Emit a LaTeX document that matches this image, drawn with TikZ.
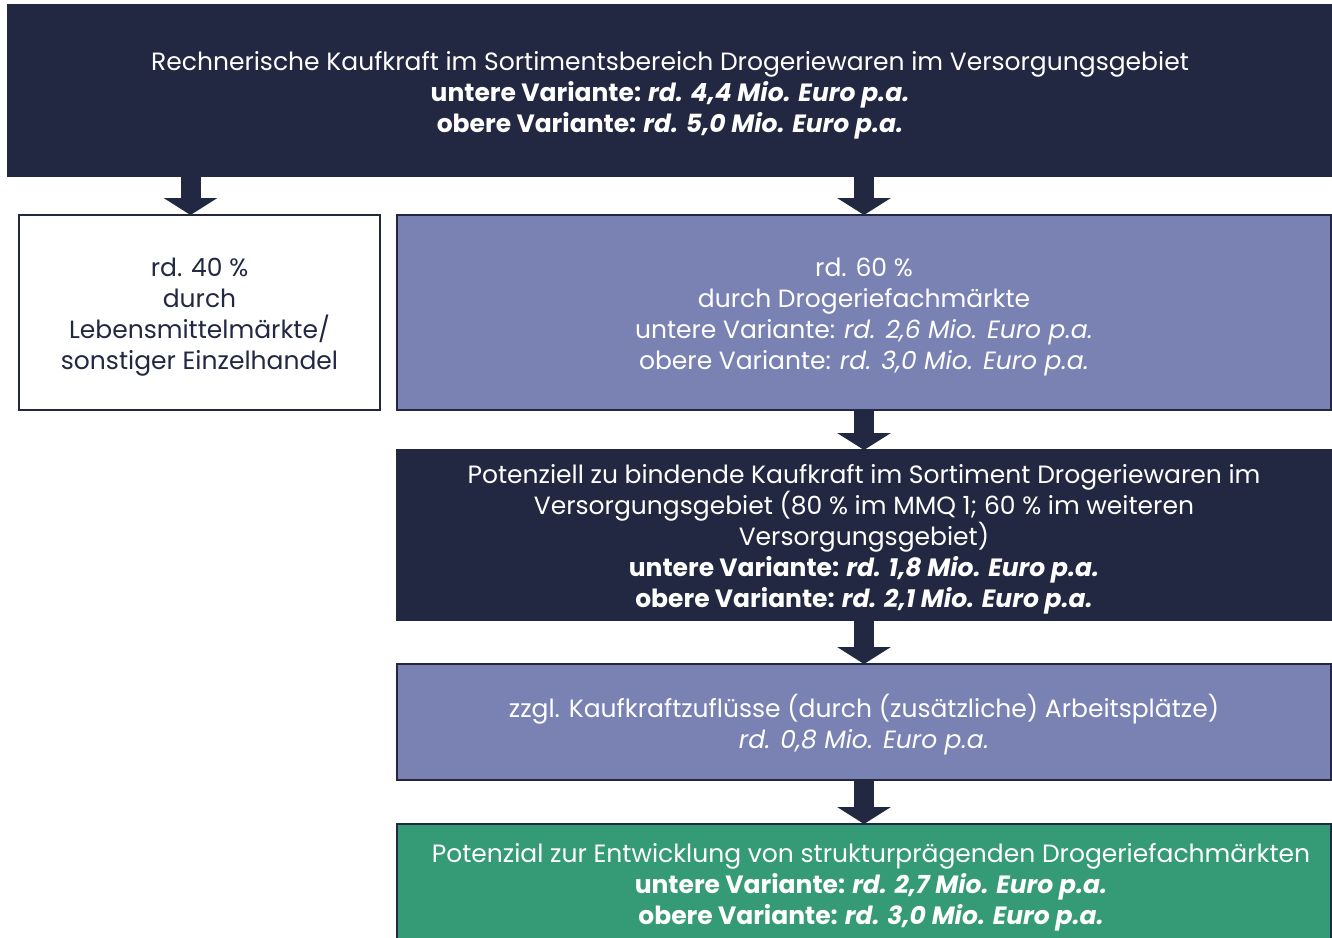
\documentclass[tikz,border=0pt]{standalone}
\usepackage{fontspec}
\setmainfont{Poppins}
\usepackage{xcolor}
\usepackage{tikz}
\usetikzlibrary{arrows.meta}
\usetikzlibrary{positioning}

\definecolor{navy}{HTML}{222841}
\definecolor{lavender}{HTML}{7A82B4}
\definecolor{mint}{HTML}{359B76}

\newcommand{\topstrut}{\rule{0pt}{28pt}} % pushes the text a bit lower in its box

\begin{document}
\begin{tikzpicture}[
    x=1pt,y=1pt,
    outer sep=0pt,inner sep=0pt,
    font=\fontsize{25}{31}\selectfont,
    flowbox/.style={rectangle,align=center,draw=navy,line width=1.5pt},
    darkbox/.style={flowbox,fill=navy,text=white},
    lavbox/.style={flowbox,fill=lavender,text=white},
    whitebox/.style={flowbox,fill=white,text=navy},
    greenbox/.style={flowbox,fill=mint,text=white},
    flowarrow/.style={draw=navy,line width=20pt,-{Triangle[length=17pt,width=53pt]}},
    ]
    \useasboundingbox (0,0) rectangle (1332,-937);
    \clip (0,0) rectangle (1332,-937);

    \node (kaufkraft) at (670,-90.5) [darkbox,minimum width=1324pt,minimum height=171pt]
        {\topstrut Rechnerische Kaufkraft im Sortimentsbereich Drogeriewaren im Versorgungsgebiet\\
         \textbf{untere Variante: \textit{rd. 4,4 Mio. Euro p.a.}}\\
         \textbf{obere Variante: \textit{rd. 5,0 Mio. Euro p.a.}}};

    \node (drogerie) [below left=39pt and 1pt of kaufkraft.south east] [lavbox,minimum width=934pt,minimum height=195pt]
        {\topstrut rd. 60 \%\\
         durch Drogeriefachmärkte\\
         untere Variante: \textit{rd. 2,6 Mio. Euro p.a.}\\
         obere Variante: \textit{rd. 3,0 Mio. Euro p.a.}};
    \node (lebensm) [left=17pt of drogerie] [whitebox,minimum width=361pt,minimum height=195pt]
        {\topstrut rd. 40 \%\\
         durch\\
         Lebensmittelmärkte/\\
         sonstiger Einzelhandel};

    \node (bindung) [below=40pt of drogerie] [darkbox,minimum width=934pt,minimum height=170pt]
        {\topstrut Potenziell zu bindende Kaufkraft im Sortiment Drogeriewaren im\\
         Versorgungsgebiet (80 \% im MMQ 1; 60 \% im weiteren\\
         Versorgungsgebiet)\\
         \textbf{untere Variante: \textit{rd. 1,8 Mio. Euro p.a.}}\\
         \textbf{obere Variante: \textit{rd. 2,1 Mio. Euro p.a.}}};

    \node (zufluss) [below=44pt of bindung] [lavbox,minimum width=934pt,minimum height=116pt]
        {\topstrut zzgl. Kaufkraftzuflüsse (durch (zusätzliche) Arbeitsplätze)\\
         \textit{rd. 0,8 Mio. Euro p.a.}};

    % green box runs past the lower edge of the page
    \node (potenzial) [below=44pt of zufluss] [greenbox,minimum width=934pt,minimum height=150pt] {};
    \node (pottext) [below right=19pt and 7pt of potenzial.north,anchor=north] [align=center,text=white]
        {Potenzial zur Entwicklung von strukturprägenden Drogeriefachmärkten\\
         \textbf{untere Variante: \textit{rd. 2,7 Mio. Euro p.a.}}\\
         \textbf{obere Variante: \textit{rd. 3,0 Mio. Euro p.a.}}};

    \draw [flowarrow] ([xshift=-9pt]lebensm.north |- kaufkraft.south) -- ([xshift=-9pt]lebensm.north);
    \draw [flowarrow] (drogerie.north |- kaufkraft.south) -- (drogerie.north);
    \draw [flowarrow] (drogerie.south) -- (bindung.north);
    \draw [flowarrow] (bindung.south)  -- (zufluss.north);
    \draw [flowarrow] (zufluss.south)  -- (potenzial.north);
\end{tikzpicture}
\end{document}
